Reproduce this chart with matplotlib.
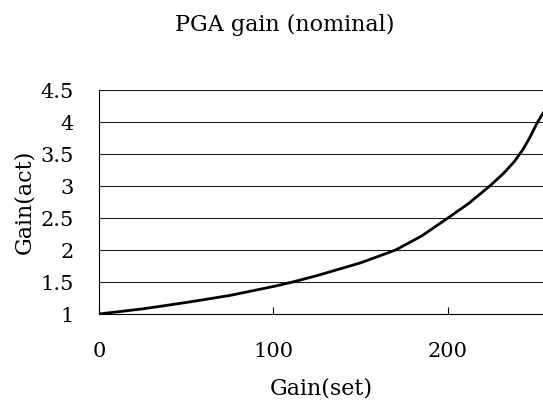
import matplotlib
matplotlib.use('Agg')
import matplotlib.pyplot as plt

# values
gain_set = [0, 25, 50, 75, 100, 111, 125, 150, 170, 185, 200, 212, 224, 232, 238, 243, 247, 251, 255]
gain_act = [1.0, 1.08, 1.18, 1.29, 1.43, 1.5, 1.6, 1.8, 2.0, 2.22, 2.5, 2.73, 3.0, 3.2, 3.38, 3.57, 3.76, 3.98, 4.16]

x_ticks = [0, 100, 200]
y_ticks = [1, 1.5, 2, 2.5, 3, 3.5, 4, 4.5]
y_labels = ['1', '1.5', '2', '2.5', '3', '3.5', '4', '4.5']


def main():
    plt.rcParams['font.family'] = ['DejaVu Serif']
    fig = plt.figure(figsize=(5.43, 4.04), dpi=100)
    ax = fig.add_axes([99 / 543, 1 - 314 / 404, 1 - 99 / 543, 224 / 404])

    for y in y_ticks[1:]:
        ax.axhline(y, color='#222222', linewidth=0.8, zorder=1)
    ax.plot(gain_set, gain_act, color='black', linewidth=2.0, zorder=3)

    ax.set_xlim(0, 254.5)
    ax.set_ylim(1, 4.5)
    ax.set_xticks(x_ticks)
    ax.set_xticklabels([str(t) for t in x_ticks])
    ax.set_yticks(y_ticks)
    ax.set_yticklabels(y_labels)
    ax.tick_params(axis='x', direction='in', length=5, width=0.8, pad=20, labelsize=15)
    ax.tick_params(axis='y', length=0, pad=18, labelsize=15)

    for side in ['top', 'right']:
        ax.spines[side].set_visible(False)
    ax.spines['left'].set_linewidth(0.8)
    ax.spines['bottom'].set_linewidth(0.8)

    ax.set_xlabel('Gain(set)', fontsize=16, labelpad=12)
    ax.set_ylabel('Gain(act)', fontsize=16, labelpad=4)
    fig.text(285 / 543, 1 - 25 / 404, 'PGA gain (nominal)',
             ha='center', va='center', fontsize=16)

    fig.savefig('out.png', dpi=100)


if __name__ == '__main__':
    main()
